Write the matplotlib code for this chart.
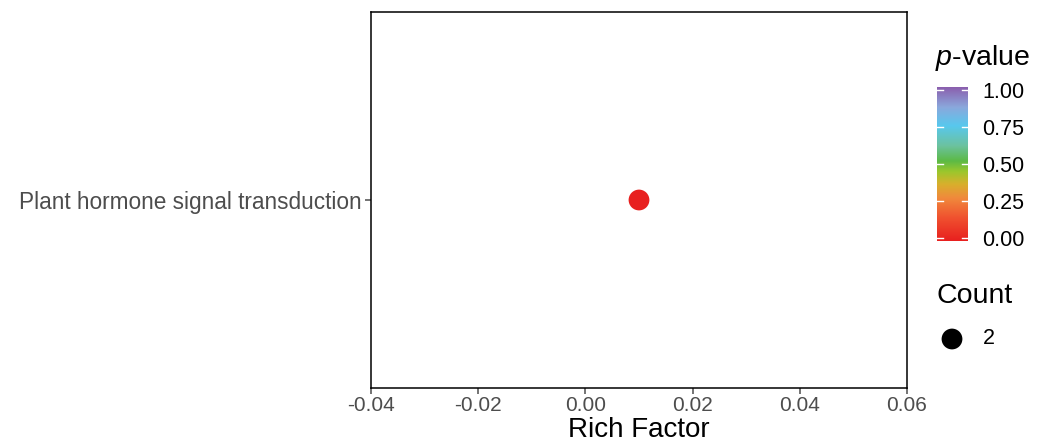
import matplotlib
matplotlib.use("Agg")
import matplotlib.pyplot as plt
import numpy as np
from matplotlib.colors import LinearSegmentedColormap, Normalize

plt.rcParams['font.family'] = ['Liberation Sans', 'DejaVu Sans']
plt.rcParams['mathtext.fontset'] = 'custom'
plt.rcParams['mathtext.rm'] = 'Liberation Sans'
plt.rcParams['mathtext.it'] = 'Liberation Sans:italic'

# data
pathways = ["Plant hormone signal transduction"]
rich_factor = [0.01]
p_values = [0.0]
counts = [2]
x_ticks = [-0.04, -0.02, 0.00, 0.02, 0.04, 0.06]
cbar_ticks = [0.00, 0.25, 0.50, 0.75, 1.00]

cmap = LinearSegmentedColormap.from_list("pv", [
    (0.0, "#e8201f"), (0.15, "#f0512f"), (0.28, "#f08a3c"), (0.37, "#d8b02c"),
    (0.45, "#9cc72c"), (0.52, "#5cba45"), (0.62, "#6cc2a0"), (0.75, "#58c8ee"),
    (0.87, "#8aa8dc"), (1.0, "#8b5fae")])
norm = Normalize(0, 1)
SIZE_PER_COUNT = 112

fig = plt.figure(figsize=(10.45, 4.46), dpi=100)
ax = fig.add_axes([371/1045, 1-388/446, (907-371)/1045, (388-12)/446])

ypos = np.arange(len(pathways))
ax.scatter(rich_factor, ypos, c=p_values, cmap=cmap, norm=norm,
           s=[c * SIZE_PER_COUNT for c in counts], edgecolors='none', zorder=3)
ax.set_xlim(-0.04, 0.06)
ax.set_ylim(-0.6, 0.6)
ax.set_yticks(ypos)
ax.set_yticklabels(pathways)
ax.set_xticks(x_ticks)
ax.set_xticklabels([f"{t:.2f}" for t in x_ticks])
ax.tick_params(axis='both', labelsize=15, colors='#4d4d4d', length=4, width=1.1,
               labelcolor='#4d4d4d')
ax.tick_params(axis='x', pad=2)
ax.tick_params(axis='y', pad=3, labelsize=16.3)
for s in ax.spines.values():
    s.set_linewidth(1.1)
    s.set_color('black')
ax.set_xlabel("Rich Factor", fontsize=20, color='black', labelpad=1)

# colorbar
cax = fig.add_axes([937/1045, 1-241/446, 31/1045, (241-87)/446])
grad = np.linspace(0, 1, 256).reshape(-1, 1)
cax.imshow(grad, aspect='auto', cmap=cmap, origin='lower', extent=[0, 1, -0.02, 1.02])
cax.set_xlim(0, 1)
cax.set_ylim(-0.02, 1.02)
for t in cbar_ticks:
    cax.plot([0, 0.2], [t, t], color='white', lw=1)
    cax.plot([0.8, 1], [t, t], color='white', lw=1)
cax.set_xticks([])
cax.set_yticks(cbar_ticks)
cax.set_yticklabels([f"{t:.2f}" for t in cbar_ticks])
cax.yaxis.tick_right()
cax.tick_params(axis='y', length=0, labelsize=15.5, pad=10, colors='black')
for s in cax.spines.values():
    s.set_visible(False)

fig.text(935/1045, 1-58/446, r"$\it{p}$-value", fontsize=20.5, va='center', ha='left')
fig.text(936/1045, 1-296/446, "Count", fontsize=20.5, va='center', ha='left')

# count legend
lax = fig.add_axes([937/1045, 1-355/446, 30/1045, 32/446])
lax.set_xlim(0, 1); lax.set_ylim(0, 1)
lax.axis('off')
lax.scatter([0.5], [0.5], s=counts[0] * SIZE_PER_COUNT, color='black', edgecolors='none')
fig.text(983/1045, 1-339/446, str(counts[0]), fontsize=15.5, va='center', ha='left')

fig.savefig("out.png", dpi=100)
